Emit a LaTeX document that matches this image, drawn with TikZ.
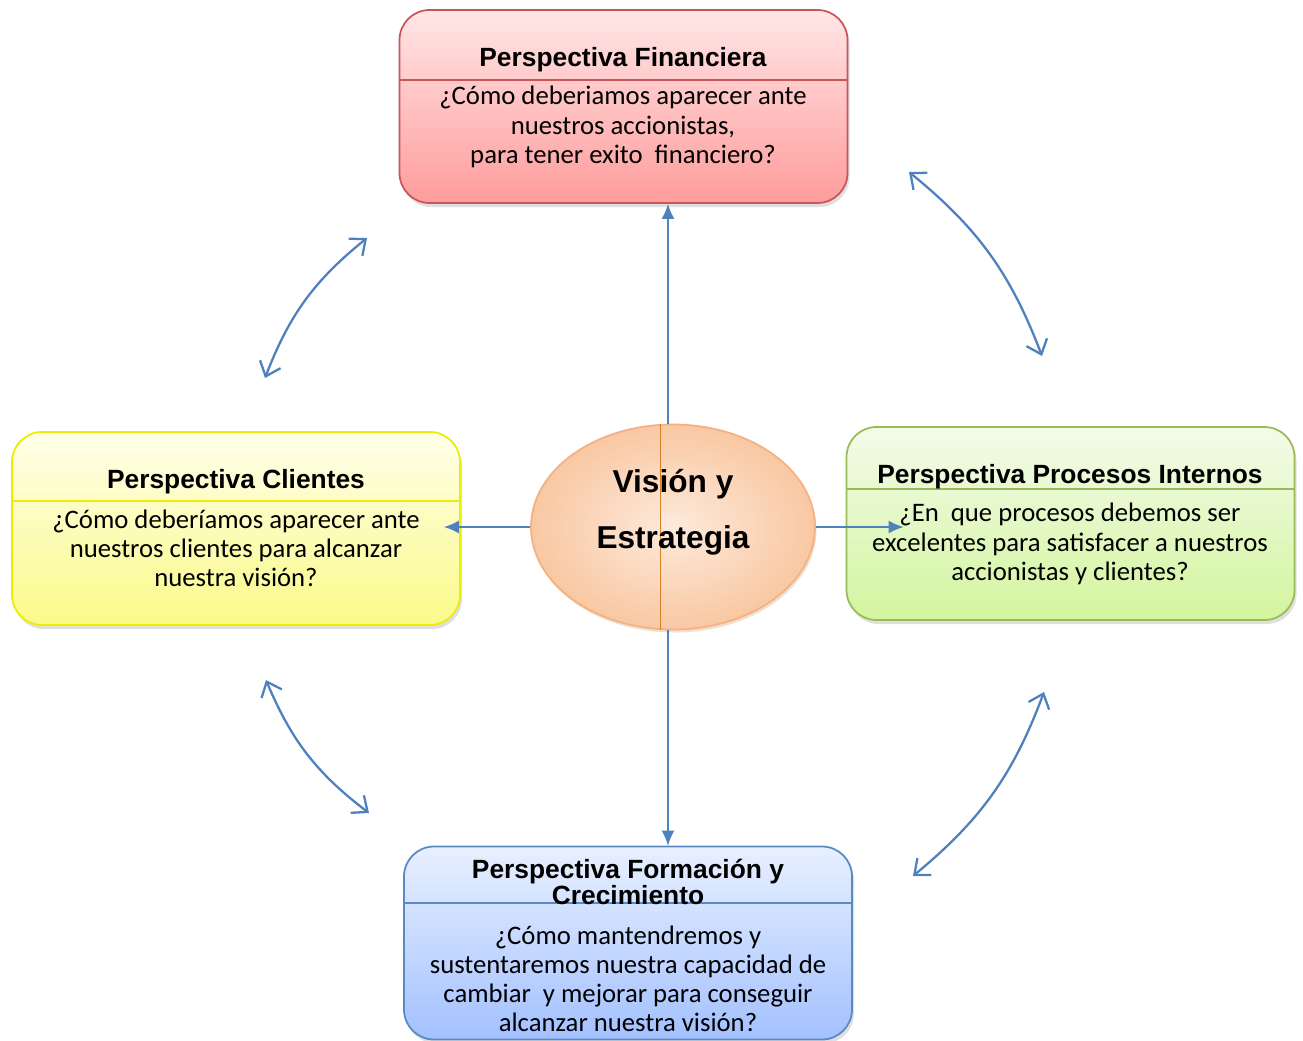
\documentclass[tikz,border=0pt]{standalone}
\usepackage{fontspec}
\setmainfont{Carlito}
\newfontfamily\headfont{Liberation Sans}
\usepackage{xcolor}
\usepackage{tikz}
\usetikzlibrary{arrows.meta,shapes.geometric,shadows}

\definecolor{arrowblue}{HTML}{4F81BD}
\definecolor{finTop}{HTML}{FFE6E6}
\definecolor{finBot}{HTML}{FF9C9C}
\definecolor{finLine}{HTML}{C9575A}
\definecolor{cliTop}{HTML}{FFFFEA}
\definecolor{cliBot}{HTML}{FAFA8A}
\definecolor{cliLine}{HTML}{EDED00}
\definecolor{proTop}{HTML}{F4FBEA}
\definecolor{proBot}{HTML}{D3F59E}
\definecolor{proLine}{HTML}{9BBB59}
\definecolor{forTop}{HTML}{E8F0FF}
\definecolor{forBot}{HTML}{A3C1FF}
\definecolor{forLine}{HTML}{5A89C4}
\definecolor{visIn}{HTML}{FDEADC}
\definecolor{visOut}{HTML}{F9C8A2}
\definecolor{visLine}{HTML}{F4B183}

\begin{document}
\begin{tikzpicture}[x=0.2mm,y=-0.2mm,
  persp/.style={draw,rounded corners=6mm,minimum width=89.6mm,minimum height=38.6mm,
                line width=1pt,drop shadow={shadow xshift=0.4mm,shadow yshift=-0.8mm,opacity=0.25}},
  head/.style={font=\headfont\bfseries\fontsize{15}{14.8}\selectfont,align=center},
  body/.style={font=\fontsize{15.2}{16.6}\selectfont,align=center},
  conn/.style={-{Latex[length=3mm,width=2.6mm]},arrowblue,line width=0.9pt},
  dbl/.style={{Straight Barb[length=2.6mm,width=4.4mm]}-{Straight Barb[length=2.6mm,width=4.4mm]},
              arrowblue,line width=1.3pt,bend left=15}]
  \useasboundingbox (0,0) rectangle (1303,1040);

  % the four perspectives
  \node[persp,draw=finLine,top color=finTop,bottom color=finBot] (fin) at (623.5,106.5) {};
  \node[persp,draw=cliLine,top color=cliTop,bottom color=cliBot] (cli) at (236,528.5) {};
  \node[persp,draw=proLine,top color=proTop,bottom color=proBot] (pro) at (1070.5,523.5) {};
  \node[persp,draw=forLine,top color=forTop,bottom color=forBot] (for) at (628,943) {};

  \draw[finLine,line width=1pt] (fin.west |- 0,80) -- (fin.east |- 0,80);
  \draw[cliLine,line width=1pt] (cli.west |- 0,501) -- (cli.east |- 0,501);
  \draw[proLine,line width=1pt] (pro.west |- 0,489) -- (pro.east |- 0,489);
  \draw[forLine,line width=1pt] (for.west |- 0,903) -- (for.east |- 0,903);

  \node[head] (finT) at (623,60) {Perspectiva Financiera};
  \node[body] (finB) at (623,127) {¿Cómo deberiamos aparecer ante\\nuestros accionistas,\\para tener exito\ \ financiero?};
  \node[head] (cliT) at (236,482) {Perspectiva Clientes};
  \node[body] (cliB) at (236,548) {¿Cómo deberíamos aparecer ante\\nuestros clientes para alcanzar\\nuestra visión?};
  \node[head] (proT) at (1070,477) {Perspectiva Procesos Internos};
  \node[body] (proB) at (1070,544) {¿En\ \ que procesos debemos ser\\excelentes para satisfacer a nuestros\\accionistas y clientes?};
  \node[head] (forT) at (628,882) {Perspectiva Formación y\\Crecimiento};
  \node[body] (forB) at (628,979) {¿Cómo mantendremos y\\sustentaremos nuestra capacidad de\\cambiar\ \ y mejorar para conseguir\\alcanzar nuestra visión?};

  % centre
  \node[ellipse,draw=visLine,line width=1pt,inner color=visIn,outer color=visOut,
        minimum width=56.8mm,minimum height=41mm,
        drop shadow={shadow xshift=0.3mm,shadow yshift=-0.6mm,opacity=0.35,fill=brown!70}] (vis) at (673,527) {};
  \draw[brown!60!orange,line width=0.4pt] ([xshift=-2.6mm]vis.north) -- ([xshift=-2.6mm]vis.south);
  \node[font=\headfont\bfseries\fontsize{18}{31.8}\selectfont,align=center] (visT) at (673,512) {Visión y\\Estrategia};

  \draw[conn] ([xshift=-1mm]vis.north) -- ([xshift=-1mm]vis.north |- fin.south);
  \draw[conn] ([xshift=-1mm]vis.south) -- ([xshift=-1mm]vis.south |- for.north);
  \draw[conn] (vis.west) -- ([xshift=-3.4mm]cli.east |- vis.west);
  \draw[conn] (vis.east) -- ([xshift=11.6mm]pro.west |- vis.east);

  % curved links
  \coordinate (tlA) at (265,378);  \coordinate (tlB) at (367,238);
  \coordinate (trA) at (909,172);  \coordinate (trB) at (1042,356);
  \coordinate (brA) at (1044,692); \coordinate (brB) at (913,876);
  \coordinate (blA) at (369,813);  \coordinate (blB) at (266,680);
  \draw[dbl] (tlA) to (tlB);
  \draw[dbl] (trA) to (trB);
  \draw[dbl] (brA) to (brB);
  \draw[dbl] (blA) to (blB);
\end{tikzpicture}
\end{document}
